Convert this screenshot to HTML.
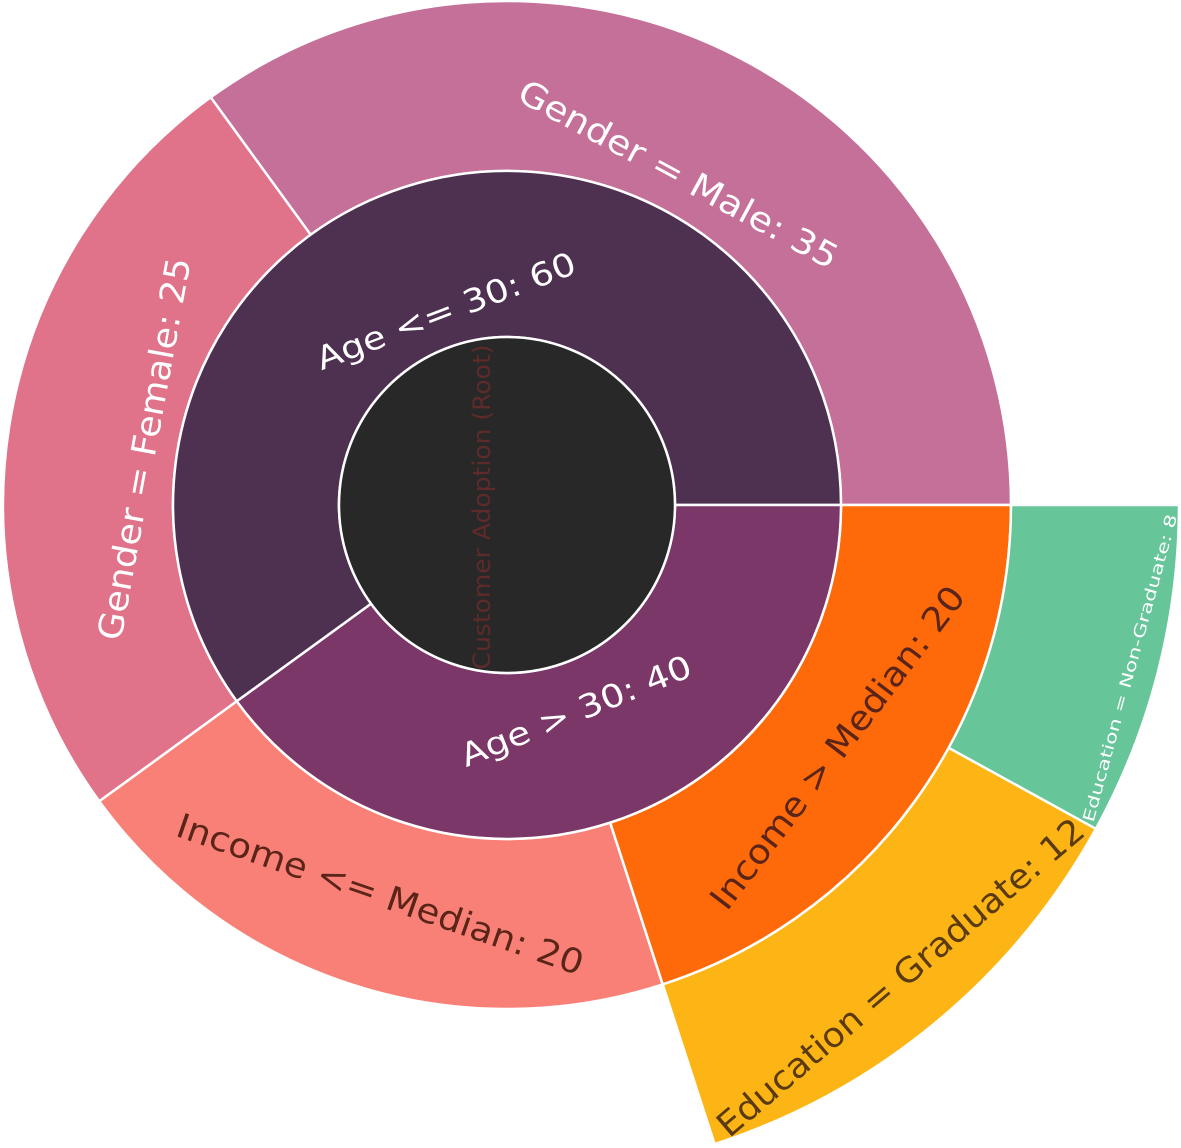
<!DOCTYPE html>
<html><head><meta charset="utf-8"><style>
html,body{margin:0;padding:0;background:#fff;}
svg{display:block;}
text{font-family:"DejaVu Sans","Liberation Sans",sans-serif;dominant-baseline:central;text-anchor:middle;}
</style></head><body>
<svg width="1181" height="1148" viewBox="0 0 1181 1148" xmlns="http://www.w3.org/2000/svg">
<g stroke="#fff" stroke-width="2.5" stroke-linejoin="round">
<path fill="#c57098" d="M1011 505 A504 504 0 0 0 210.7 97.3 L310.7 234.8 A334 334 0 0 1 841 505 Z"/>
<path fill="#e0728a" d="M210.7 97.3 A504 504 0 0 0 99.3 801.3 L236.8 701.3 A334 334 0 0 1 310.7 234.8 Z"/>
<path fill="#f98077" d="M99.3 801.3 A504 504 0 0 0 662.7 984.4 L610.2 822.7 A334 334 0 0 1 236.8 701.3 Z"/>
<path fill="#fe6a0a" d="M662.7 984.4 A504 504 0 0 0 1011 505 L841 505 A334 334 0 0 1 610.2 822.7 Z"/>
<path fill="#fdb515" d="M662.7 984.4 L714.6 1144.1 A672 672 0 0 0 1095.9 828.8 L948.7 747.8 A504 504 0 0 1 662.7 984.4 Z"/>
<path fill="#66c69a" d="M948.7 747.8 L1095.9 828.8 A672 672 0 0 0 1179 505 L1011 505 A504 504 0 0 1 948.7 747.8 Z"/>
<path fill="#4e3150" d="M841 505 A334 334 0 1 0 236.8 701.3 L371.1 603.8 A168 168 0 1 1 675 505 Z"/>
<path fill="#7a3768" d="M236.8 701.3 A334 334 0 0 0 841 505 L675 505 A168 168 0 0 1 371.1 603.8 Z"/>
<circle cx="507" cy="505" r="168" fill="#282828"/>
</g>
<text x="0" y="0" font-size="24" fill="#5e2a2a" textLength="325" lengthAdjust="spacingAndGlyphs" transform="translate(482 507) rotate(-90)">Customer Adoption (Root)</text>
<text font-size="34" fill="#fff" textLength="358" lengthAdjust="spacingAndGlyphs" transform="translate(678 175) rotate(28.4)">Gender = Male: 35</text>
<text font-size="34" fill="#fff" textLength="388" lengthAdjust="spacingAndGlyphs" transform="translate(145 449) rotate(-79.6)">Gender = Female: 25</text>
<text font-size="32" fill="#fff" textLength="275" lengthAdjust="spacingAndGlyphs" transform="translate(446 311) rotate(-20.9)">Age &lt;= 30: 60</text>
<text font-size="32" fill="#fff" textLength="246" lengthAdjust="spacingAndGlyphs" transform="translate(576 711) rotate(-22)">Age &gt; 30: 40</text>
<text font-size="34" fill="#5a2418" textLength="428" lengthAdjust="spacingAndGlyphs" transform="translate(380 895) rotate(19.1)">Income &lt;= Median: 20</text>
<text font-size="34" fill="#5a2418" textLength="396" lengthAdjust="spacingAndGlyphs" transform="translate(838 748) rotate(-52.7)">Income &gt; Median: 20</text>
<text font-size="34" fill="#5a3a10" textLength="470" lengthAdjust="spacingAndGlyphs" transform="translate(901 978) rotate(-40.4)">Education = Graduate: 12</text>
<text font-size="16" fill="#fff" textLength="318" lengthAdjust="spacingAndGlyphs" transform="translate(1130 668) rotate(-74.7)">Education = Non-Graduate: 8</text>
</svg>
</body></html>
